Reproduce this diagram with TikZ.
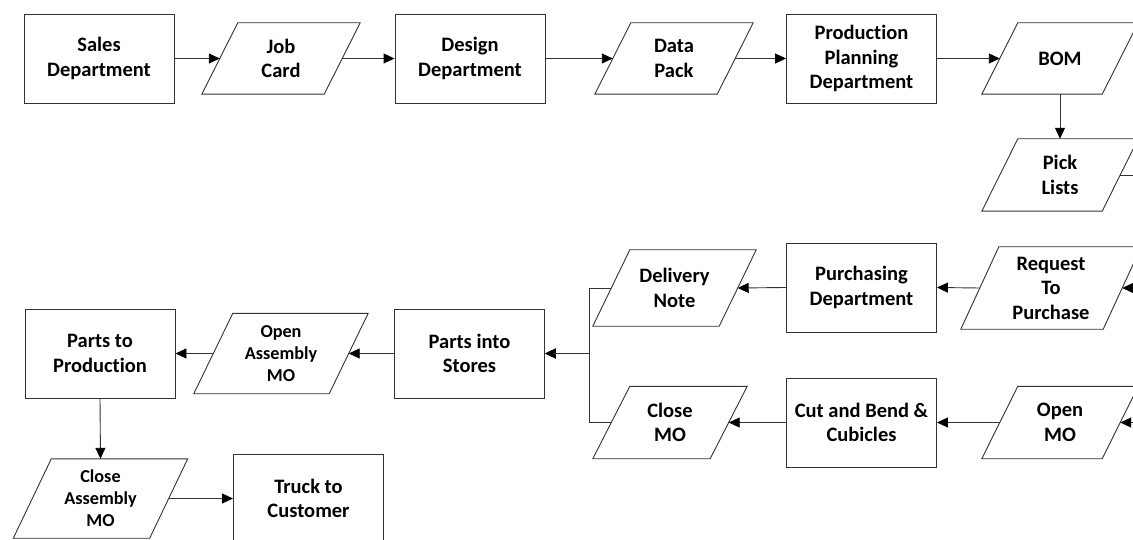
\documentclass[tikz,border=0pt]{standalone}
\usepackage{fontspec}
\setmainfont{Carlito}[Ligatures=CommonOff]
\usetikzlibrary{arrows.meta}
\tikzset{
  line/.style={draw=black!80, line width=0.9pt},
  box/.style={line, rectangle, minimum width=150pt, minimum height=89pt, inner sep=0pt, align=center, font=\fontsize{20.5}{24.5}\selectfont\bfseries},
  ptext/.style={rectangle, inner sep=0pt, align=center, font=\fontsize{20.5}{24.5}\selectfont\bfseries},
  psmall/.style={ptext, font=\fontsize{18.2}{22}\selectfont\bfseries},
  conn/.style={line, -{Triangle[length=11pt,width=10pt,color=black]}},
  plain/.style={line},
}
\newcommand{\mypara}[7][ptext]{%
  \node[#1, minimum width=#4, minimum height=#5] (#2) at (#3) {#7};
  \draw[line] ([xshift=-#6/2]#2.south west) -- ([xshift=#6/2]#2.north west) -- ([xshift=#6/2]#2.north east) -- ([xshift=-#6/2]#2.south east) -- cycle;}
\begin{document}
\begin{tikzpicture}[x=1pt,y=-1pt]
\useasboundingbox (0,0) rectangle (1133,540);
\fill[white] (0,0) rectangle (1133,540);
\clip (0,0) rectangle (1133,540);
% row 1
\node[box] (sales) at (99,58.5) {Sales\\Department};
\mypara{jobcard}{281,58.5}{122}{71}{36}{Job\\Card}
\node[box] (design) at (470,58.5) {Design\\Department};
\mypara{datapack}{674,58.5}{122}{71}{36}{Data\\Pack}
\node[box] (pp) at (861.5,58.5) {Production\\Planning\\Department};
\mypara{bom}{1060,58.5}{120}{71}{36}{BOM}
\mypara{pick}{1060,175}{120}{72}{36}{Pick\\Lists}
% row 2
\mypara{request}{1051,288}{142}{82}{38}{Request\\To\\Purchase}
\node[box] (purch) at (861.5,287.5) {Purchasing\\Department};
\mypara{delivery}{674.5,288}{126}{76}{37}{Delivery\\Note}
\mypara{openmo}{1060,422.5}{120}{72}{36}{Open\\MO}
\node[box] (cut) at (861.5,422.5) {Cut and Bend \&\\Cubicles};
\mypara{closemo}{670,422.5}{117}{72}{37}{Close\\MO}
% row 3
\node[box] (stores) at (469.5,353.5) {Parts into\\Stores};
\mypara[psmall]{openasm}{281,353.5}{135}{80}{39}{Open\\Assembly\\MO}
\node[box] (partsprod) at (100,353.5) {Parts to\\Production};
% row 4
\mypara[psmall]{closeasm}{100.5,498.5}{136}{79}{38}{Close\\Assembly\\MO}
\node[box] (truck) at (308.5,498.5) {Truck to\\Customer};
% junction coordinates
\coordinate (split) at (1155,175);
\coordinate (join) at (589,353.5);
% connectors
\draw[conn] (sales.east) -- (jobcard.west);
\draw[conn] (jobcard.east) -- (design.west);
\draw[conn] (design.east) -- (datapack.west);
\draw[conn] (datapack.east) -- (pp.west);
\draw[conn] (pp.east) -- (bom.west);
\draw[conn] (bom.south) -- (pick.north);
\draw[plain] (pick.east) -- (split);
\draw[conn] (split) |- (request.east);
\draw[conn] (split) |- (openmo.east);
\draw[conn] (request.west) -- (purch.east);
\draw[conn] (purch.west) -- (delivery.east);
\draw[conn] (openmo.west) -- (cut.east);
\draw[conn] (cut.west) -- (closemo.east);
\draw[conn] (delivery.west) -| (join) -- (stores.east);
\draw[conn] (closemo.west) -| (join) -- (stores.east);
\draw[line, line width=1.4pt, shorten >=8pt] (join) -- (stores.east);
\draw[conn] (stores.west) -- (openasm.east);
\draw[conn] (openasm.west) -- (partsprod.east);
\draw[conn] (partsprod.south) -- (closeasm.north);
\draw[conn] (closeasm.east) -- (truck.west);
\end{tikzpicture}
\end{document}
